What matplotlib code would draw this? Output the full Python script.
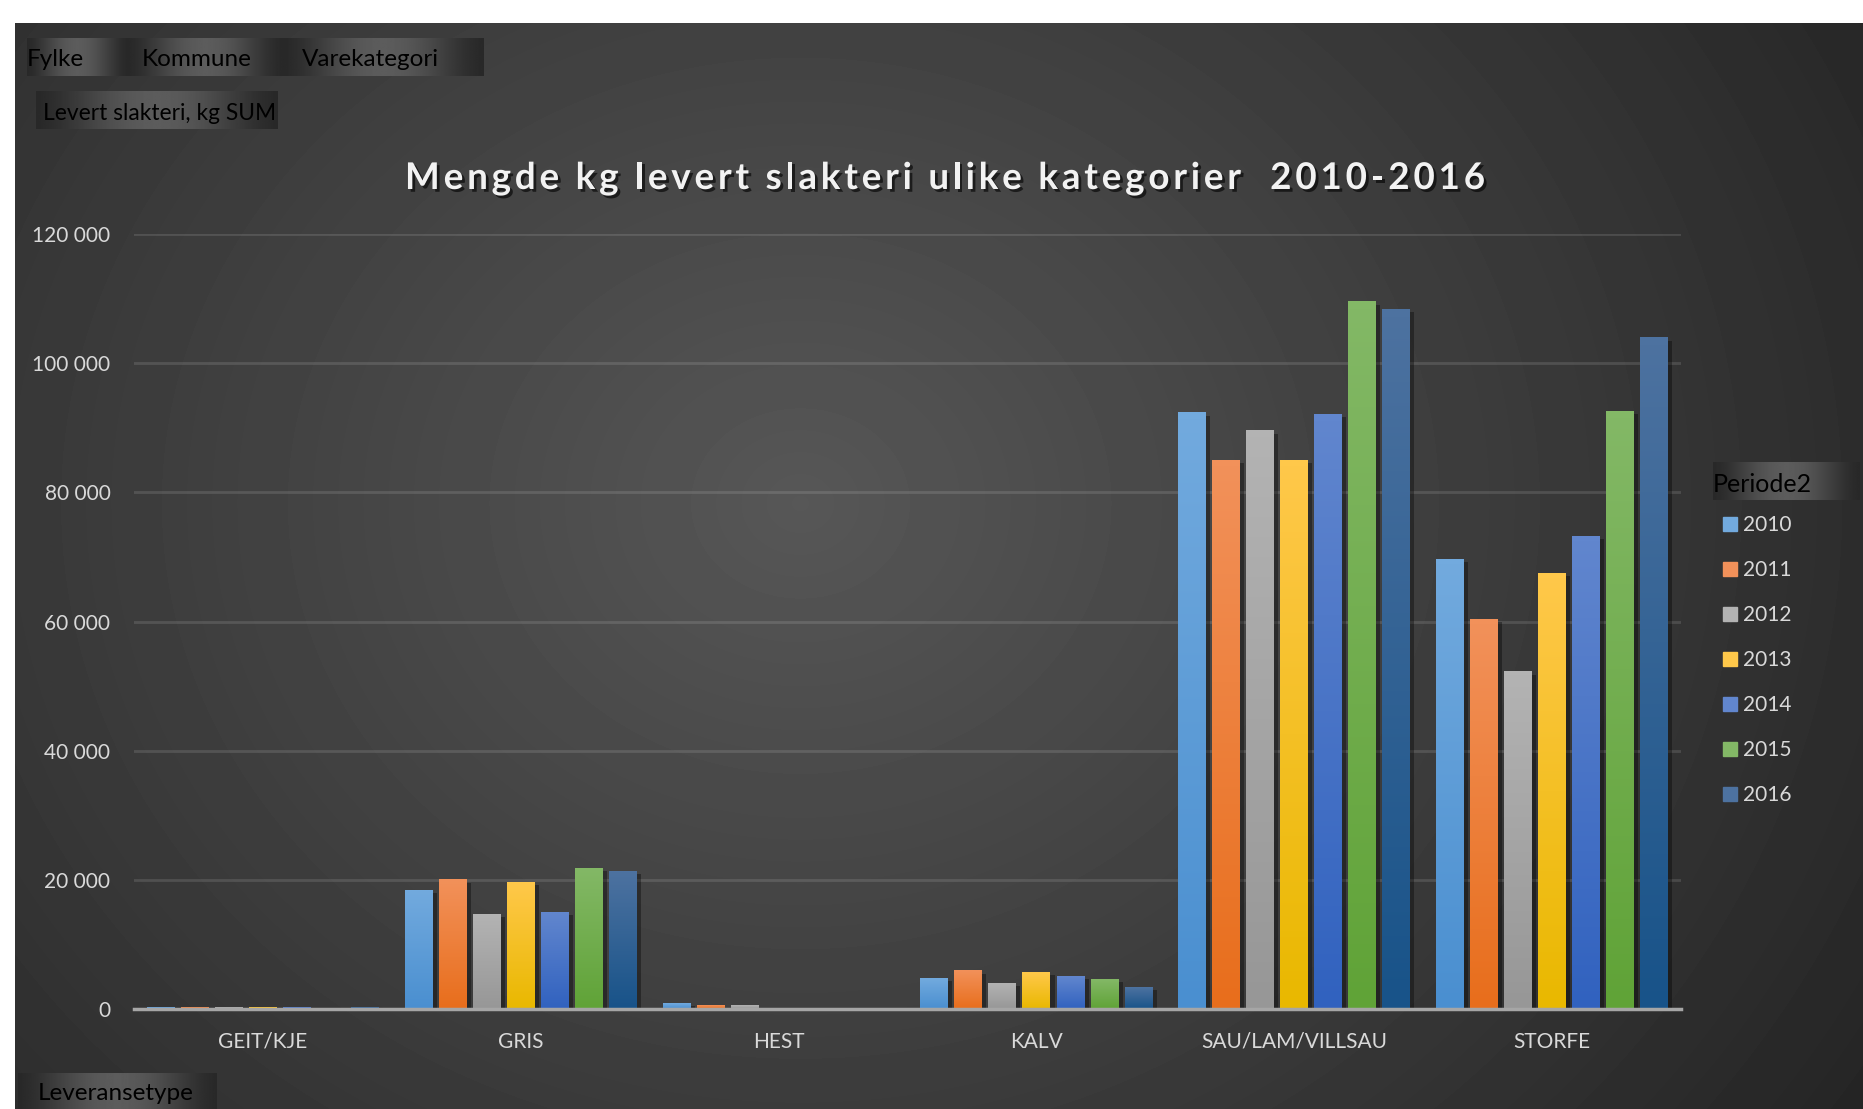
import numpy as np
import matplotlib
matplotlib.use("Agg")
import matplotlib.pyplot as plt
import matplotlib.patheffects as pe
from matplotlib.colors import LinearSegmentedColormap
from matplotlib.patches import Rectangle

plt.rcParams['font.family'] = ['Lato', 'DejaVu Sans']

categories = ['GEIT/KJE', 'GRIS', 'HEST', 'KALV', 'SAU/LAM/VILLSAU', 'STORFE']
years = ['2010', '2011', '2012', '2013', '2014', '2015', '2016']

# kg per category, one list per year
kg_2010 = [300, 18400, 900, 4800, 92300, 69600]
kg_2011 = [300, 20000, 500, 5900, 85000, 60300]
kg_2012 = [300, 14700, 600, 4000, 89500, 52200]
kg_2013 = [300, 19600, 0, 5700, 85000, 67500]
kg_2014 = [300, 15000, 0, 5100, 92100, 73200]
kg_2015 = [0, 21800, 0, 4600, 109500, 92500]
kg_2016 = [300, 21300, 0, 3300, 108300, 103900]
series = [kg_2010, kg_2011, kg_2012, kg_2013, kg_2014, kg_2015, kg_2016]

# (top, bottom) colours for the bar gradients
bar_colors = [('#72aade', '#4a8fd0'), ('#f2915a', '#e86e1c'), ('#b3b3b3', '#979797'),
              ('#ffc84a', '#e9b800'), ('#6186ce', '#3162bf'), ('#83b866', '#60a337'),
              ('#4d72a0', '#185389')]

yticks = [0, 20000, 40000, 60000, 80000, 100000, 120000]
title = 'Mengde kg levert slakteri ulike kategorier  2010-2016'

W, H = 1863, 1109
fig = plt.figure(figsize=(W / 100, H / 100), dpi=100)
fig.patch.set_facecolor('white')


def fx(x):
    return x / W


def fy(y):
    return 1 - y / H


# dark background with radial light spot
bg = fig.add_axes([fx(15), 0, fx(W - 15), (H - 23) / H])
yy, xx = np.mgrid[0:H - 23, 0:W - 15]
r = np.hypot((xx - 785) / 1.15, yy - 480)
shade = np.clip(87 - 50 * r / 1100, 32, 255) / 255
bg.imshow(shade, cmap='gray', vmin=0, vmax=1, aspect='auto', interpolation='bilinear')
bg.axis('off')

# main chart
ax = fig.add_axes([fx(134), fy(1009), fx(1681 - 134), (1009 - 234) / H])
ax.patch.set_alpha(0)
x = np.arange(len(categories))
step = 0.132
width = 0.108
for i, vals in enumerate(series):
    top, bot = bar_colors[i]
    cmap = LinearSegmentedColormap.from_list('g%d' % i, [bot, top])
    bars = ax.bar(x + (i - 3) * step, vals, width, color=bot, zorder=3,
                  path_effects=[pe.SimplePatchShadow(offset=(3, -2), shadow_rgbFace='black', alpha=0.35),
                                pe.Normal()])
    for b in bars:
        h = b.get_height()
        if h <= 0:
            continue
        x0 = b.get_x()
        ax.imshow(np.linspace(1, 0, 64)[:, None], cmap=cmap, vmin=0, vmax=1, aspect='auto',
                  extent=[x0, x0 + b.get_width(), 0, h], zorder=4, interpolation='bilinear')

ax.set_xlim(-0.5, len(categories) - 0.5)
ax.set_ylim(0, 120000)
ax.set_yticks(yticks)
ax.set_yticklabels([f"{v:,}".replace(",", " ") for v in yticks])
ax.set_xticks(x)
ax.set_xticklabels(categories)
ax.tick_params(axis='y', length=0, pad=17, labelsize=15, labelcolor='#d9d9d9')
ax.tick_params(axis='x', length=0, pad=16.5, labelsize=15, labelcolor='#d9d9d9')
ax.grid(axis='y', color='white', alpha=0.12, linewidth=2, zorder=1)
ax.set_axisbelow(True)
for s in ['top', 'right', 'left']:
    ax.spines[s].set_visible(False)
ax.spines['bottom'].set_color('#a6a6a6')
ax.spines['bottom'].set_linewidth(2.5)
ax.spines['bottom'].set_zorder(5)

# letter-spaced title
renderer = fig.canvas.get_renderer()
tkw = dict(fontsize=26.5, fontweight='bold')


def text_w(s):
    t = fig.text(0, 0, s + '|', **tkw)
    w = t.get_window_extent(renderer).width
    t.remove()
    return w


bar_w = text_w('')
natural = text_w(title) - bar_w
target = 1080
spacing = (target - natural) / (len(title) - 1)
x_start = 945 - target / 2
for i, ch in enumerate(title):
    if ch == ' ':
        continue
    px = x_start + (text_w(title[:i]) - bar_w) + i * spacing
    fig.text(fx(px), fy(189), ch, ha='left', va='baseline', color='#f2f2f2', **tkw,
             path_effects=[pe.withSimplePatchShadow(offset=(2, -2), shadow_rgbFace='black', alpha=0.6)])

# pivot field buttons
t = np.linspace(0, 1, 200)
btn_grad = 0.16 + 0.2 * np.sin(np.pi * t) ** 1.5


def button(x0, y0, x1, y1, label, tx, size=17.5):
    a = fig.add_axes([fx(x0), fy(y1), fx(x1 - x0), (y1 - y0) / H])
    a.imshow(btn_grad[None, :], cmap='gray', vmin=0, vmax=1, aspect='auto')
    a.axis('off')
    fig.text(fx(tx), fy((y0 + y1) / 2 + 3), label, ha='left', va='center', fontsize=size, color='black')


button(27, 38, 128, 76, 'Fylke', 27)
button(128, 38, 283, 76, 'Kommune', 142)
button(283, 38, 484, 76, 'Varekategori', 302)
button(36, 91, 278, 129, 'Levert slakteri, kg SUM', 43, 16.4)
button(18, 1073, 217, 1109, 'Leveransetype', 38, 17.5)
button(1713, 462, 1860, 500, 'Periode2', 1713, 18)

# legend
for i, year in enumerate(years):
    cy = 524 + 45 * i
    fig.patches.append(Rectangle((fx(1723), fy(cy + 7)), fx(14), 14 / H,
                                 transform=fig.transFigure, color=bar_colors[i][0], zorder=5))
    fig.text(fx(1743), fy(cy + 1), year, ha='left', va='center', fontsize=15, color='#d9d9d9')

fig.savefig('out.png', dpi=100, facecolor=fig.get_facecolor())
